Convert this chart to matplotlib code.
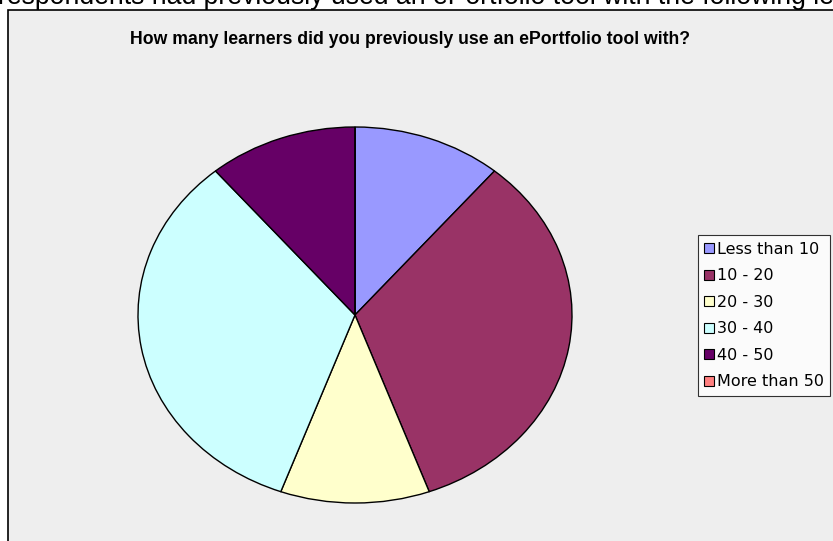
import matplotlib
matplotlib.use('Agg')
import matplotlib.pyplot as plt
import matplotlib.patches as mpatches
from matplotlib.lines import Line2D

plt.rcParams['font.family'] = ['Liberation Sans', 'DejaVu Sans']

# data
categories = ['Less than 10', '10 - 20', '20 - 30', '30 - 40', '40 - 50', 'More than 50']
counts = [1, 3, 1, 3, 1, 0]
colors = ['#9999FF', '#993366', '#FFFFCC', '#CCFFFF', '#660066', '#FF8080']
title = 'How many learners did you previously use an ePortfolio tool with?'
page_text = 'respondents had previously used an ePortfolio tool with the following le'

W, H = 833, 541
fig = plt.figure(figsize=(W / 100, H / 100), dpi=100)
fig.patch.set_facecolor('white')

# chart area box (runs off right and bottom edge)
top_px = 9.5
fig.patches.append(mpatches.Rectangle((8 / W, -0.01), 1.0, 1 - top_px / H + 0.01,
                                      transform=fig.transFigure, facecolor='#EEEEEE',
                                      edgecolor='black', linewidth=1.2, zorder=-5))

# clipped page text above the chart
fig.text(-0.002, 1 - 4.5 / H, page_text, fontsize=19.2, va='baseline', ha='left',
         zorder=-10)

fig.text(410 / W, 1 - 44 / H, title, fontsize=12.7, fontweight='bold', ha='center',
         va='baseline')

# pie (elliptical)
cx, cy, rx, ry = 355, 315, 217, 188
ax = fig.add_axes([(cx - rx) / W, (H - cy - ry) / H, 2 * rx / W, 2 * ry / H])
ax.pie(counts, colors=colors, startangle=90, counterclock=False, radius=1,
       wedgeprops=dict(edgecolor='black', linewidth=1.0))
ax.set_aspect('auto')
ax.set_xlim(-1, 1)
ax.set_ylim(-1, 1)
ax.axis('off')

handles = [Line2D([0], [0], marker='s', linestyle='none', markersize=7,
                  markerfacecolor=c, markeredgecolor='black', markeredgewidth=0.8)
           for c in colors]
leg = fig.legend(handles, categories, loc='upper left',
                 bbox_to_anchor=(698 / W, 1 - 235 / H),
                 prop={'family': 'DejaVu Sans', 'size': 11.5},
                 frameon=True, fancybox=False, edgecolor='black',
                 handlelength=0.55, handletextpad=0.2, labelspacing=0.72,
                 borderpad=0.42, borderaxespad=0)
leg.get_frame().set_linewidth(0.8)
leg.get_frame().set_facecolor('white')

fig.savefig('out.png', dpi=100)
